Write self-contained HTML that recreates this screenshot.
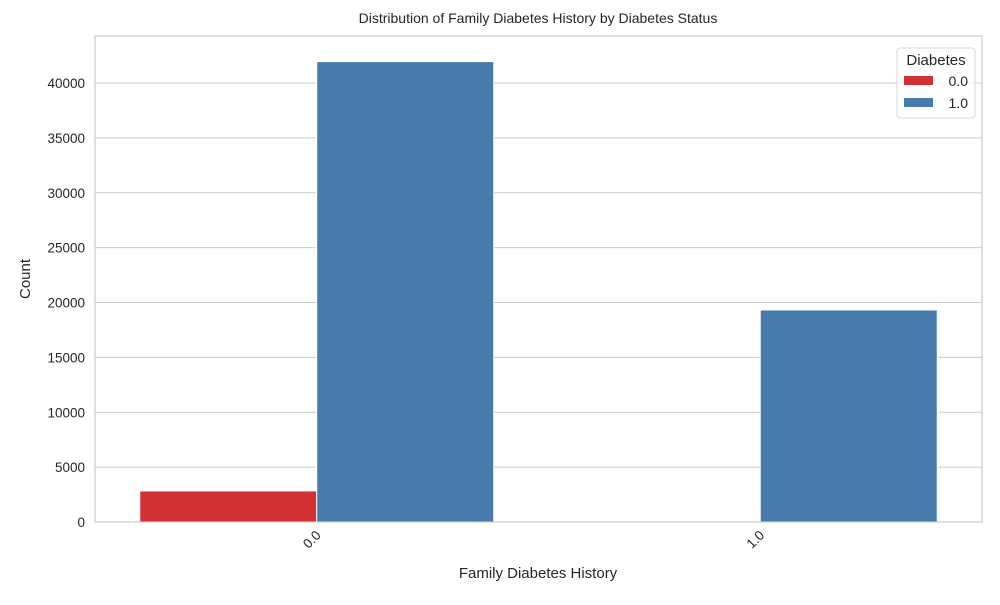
<!DOCTYPE html>
<html><head><meta charset="utf-8"><style>
body{margin:0;background:#fff;font-family:"Liberation Sans",Arial,sans-serif}
svg text{font-family:"Liberation Sans",Arial,sans-serif;fill:#262626}
</style></head><body>
<svg id="c" width="1000" height="600">
<text x="538" y="23" font-size="14" text-anchor="middle">Distribution of Family Diabetes History by Diabetes Status</text>
<text x="538" y="578" font-size="15" text-anchor="middle">Family Diabetes History</text>
<text x="30" y="279" font-size="15" text-anchor="middle" transform="rotate(-90 30 279)">Count</text>
</svg>
<script>
const categories=["0.0","1.0"];
const seriesNames=["0.0","1.0"];
const series0=[2830,0];
const series1=[41950,19320];
const yTicks=[0,5000,10000,15000,20000,25000,30000,35000,40000];
const colors=["#d13034","#477bab"];
const svg=document.getElementById('c');const NS="http://www.w3.org/2000/svg";
const L=95,R=982,T=36,B=522;
const y=v=>B-v*(522-83)/40000;
const bandW=(R-L)/categories.length;
const xc=i=>L+bandW*(i+0.5);
const bw=177;
function mk(t,a){const e=document.createElementNS(NS,t);for(const k in a)e.setAttribute(k,a[k]);svg.appendChild(e);return e;}
yTicks.forEach(v=>{const g=mk('line',{x1:L,x2:R,y1:y(v),y2:y(v),stroke:'#cccccc','stroke-width':1});


const t=mk('text',{x:L-10,y:y(v)+5,'font-size':13.5,'text-anchor':'end'});t.textContent=v;

});
[series0,series1].forEach((s,si)=>s.forEach((v,i)=>{const x=xc(i)-bw+si*bw;
const r=mk('rect',{x:x,y:y(v),width:bw,height:B-y(v),fill:colors[si],stroke:'#fff','stroke-width':1});

}));
categories.forEach((c,i)=>{const t=mk('text',{x:xc(i)+5,y:B+14,'font-size':13.5,'text-anchor':'end',transform:`rotate(-45 ${xc(i)+5} ${B+14})`});t.textContent=c;

});
const fr=mk('rect',{x:L,y:T,width:R-L,height:B-T,fill:'none',stroke:'#cccccc','stroke-width':1.2});


const lg=mk('rect',{x:897,y:48,width:78,height:70,rx:3,fill:'#fff','fill-opacity':0.8,stroke:'#d8d8d8'});


const lt=mk('text',{x:936,y:65,'font-size':15,'text-anchor':'middle'});lt.textContent='Diabetes';


seriesNames.forEach((n,i)=>{const yy=76+i*22;
const sw=mk('rect',{x:904,y:yy,width:29,height:9,fill:colors[i]});


const t=mk('text',{x:968,y:yy+10,'font-size':14,'text-anchor':'end'});t.textContent=n;

});
</script>
</body></html>
